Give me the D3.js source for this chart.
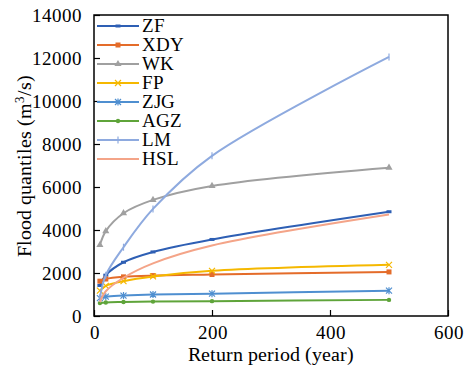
<!DOCTYPE html>
<html>
<head>
<meta charset="utf-8">
<script src="https://cdn.jsdelivr.net/npm/d3@7"></script>
<style>
  @font-face { font-family: "ChartSerif"; src: local("Liberation Serif"), local("LiberationSerif"); }
  body { margin: 0; background: #fff; }
  svg text, svg tspan { font-family: "ChartSerif", "Liberation Serif", serif !important; }
</style>
</head>
<body>
<div id="chart"></div>
<script>
const periods = [10, 20, 50, 100, 200, 500];
const names = ["ZF", "XDY", "WK", "FP", "ZJG", "AGZ", "LM", "HSL"];
const ZF = [1420, 1900, 2500, 2980, 3560, 4850];
const XDY = [1620, 1720, 1820, 1880, 1930, 2050];
const WK = [3300, 3950, 4780, 5400, 6050, 6900];
const FP = [1180, 1400, 1620, 1840, 2100, 2380];
const ZJG = [830, 900, 950, 1000, 1040, 1180];
const AGZ = [600, 630, 650, 670, 690, 750];
const LM = [850, 1900, 3200, 4980, 7450, 12050];
const HSL = [650, 1150, 1780, 2450, 3280, 4720];
const xTicks = [0, 200, 400, 600];
const yTicks = [0, 2000, 4000, 6000, 8000, 10000, 12000, 14000];

const seriesValues = [ZF, XDY, WK, FP, ZJG, AGZ, LM, HSL];
const colors = ["#2e5fb4", "#e46c2a", "#a0a0a0", "#f5b800", "#4f8fd0", "#5fa43a", "#8eaadf", "#f4a488"];
const shapes = ["dash", "square", "triangle", "x", "star", "dot", "plus", "none"];
const serif = "ChartSerif, Liberation Serif, serif";

const w = 471, h = 368;
const padL = 94, padR = 448, padT = 15, padB = 316;

const svg = d3.select("#chart").append("svg").attr("width", w).attr("height", h)
  .attr("font-family", serif);

const x = d3.scaleLinear().domain([0, 600]).range([padL, padR]);
const y = d3.scaleLinear().domain([0, 14000]).range([padB, padT]);

// axes with inward ticks
const xAxis = d3.axisBottom(x).tickValues(xTicks).tickFormat(d3.format("d"))
  .tickSizeInner(-6).tickSizeOuter(0).tickPadding(10);
const yAxis = d3.axisLeft(y).tickValues(yTicks).tickFormat(d3.format("d"))
  .tickSizeInner(-6).tickSizeOuter(0).tickPadding(12);

const gx = svg.append("g").attr("transform", `translate(0,${padB})`).call(xAxis);
const gy = svg.append("g").attr("transform", `translate(${padL},0)`).call(yAxis);
[gx, gy].forEach(g => {
  g.attr("font-family", serif).attr("font-size", 19);
  g.select(".domain").remove();
  g.selectAll(".tick line").attr("stroke", "#000").attr("stroke-width", 1.2);
  g.selectAll(".tick text").attr("fill", "#000").attr("font-family", serif);
});

svg.append("rect")
  .attr("x", padL).attr("y", padT)
  .attr("width", padR - padL).attr("height", padB - padT)
  .attr("fill", "none").attr("stroke", "#000").attr("stroke-width", 1.5);

const line = d3.line()
  .x(d => x(d[0]))
  .y(d => y(d[1]))
  .curve(d3.curveCatmullRom.alpha(0.5));

function marker(g, shape, cx, cy, color) {
  if (shape === "none") return;
  if (shape === "dash") {
    g.append("rect").attr("x", cx - 2.5).attr("y", cy - 1.5).attr("width", 5).attr("height", 3).attr("fill", color);
  } else if (shape === "square") {
    g.append("rect").attr("x", cx - 2.5).attr("y", cy - 2.5).attr("width", 5).attr("height", 5).attr("fill", color);
  } else if (shape === "triangle") {
    g.append("path").attr("d", d3.symbol(d3.symbolTriangle, 22)()).attr("transform", `translate(${cx},${cy})`).attr("fill", color);
  } else if (shape === "dot") {
    g.append("circle").attr("cx", cx).attr("cy", cy).attr("r", 2.2).attr("fill", color);
  } else if (shape === "x") {
    g.append("path").attr("d", `M${cx - 3},${cy - 3}L${cx + 3},${cy + 3}M${cx - 3},${cy + 3}L${cx + 3},${cy - 3}`)
      .attr("stroke", color).attr("stroke-width", 1.2);
  } else if (shape === "star") {
    g.append("path").attr("d", `M${cx - 3},${cy - 3}L${cx + 3},${cy + 3}M${cx - 3},${cy + 3}L${cx + 3},${cy - 3}M${cx},${cy - 3.5}L${cx},${cy + 3.5}`)
      .attr("stroke", color).attr("stroke-width", 1.2);
  } else if (shape === "plus") {
    g.append("path").attr("d", `M${cx},${cy - 3.5}L${cx},${cy + 3.5}`)
      .attr("stroke", color).attr("stroke-width", 1.2);
  }
}

seriesValues.forEach((vals, i) => {
  const pts = periods.map((p, j) => [p, vals[j]]);
  const g = svg.append("g");
  g.append("path").attr("d", line(pts))
    .attr("fill", "none").attr("stroke", colors[i]).attr("stroke-width", 2);
  pts.forEach(p => marker(g, shapes[i], x(p[0]), y(p[1]), colors[i]));
});

// legend
const legend = svg.append("g");
names.forEach((n, i) => {
  const ly = 26 + i * 19;
  legend.append("line").attr("x1", 97).attr("x2", 139).attr("y1", ly).attr("y2", ly)
    .attr("stroke", colors[i]).attr("stroke-width", 2);
  marker(legend, shapes[i], 118, ly, colors[i]);
  legend.append("text").attr("x", 142).attr("y", ly + 6)
    .attr("font-family", serif).attr("font-size", 19).text(n);
});

// axis titles
svg.append("text").attr("x", (padL + padR) / 2).attr("y", 361)
  .attr("text-anchor", "middle").attr("font-family", serif).attr("font-size", 20)
  .text("Return period (year)");

const yt = svg.append("text")
  .attr("transform", `translate(31,${(padT + padB) / 2}) rotate(-90)`)
  .attr("text-anchor", "middle").attr("font-family", serif).attr("font-size", 20);
yt.append("tspan").text("Flood quantiles (m");
yt.append("tspan").attr("dy", -7).attr("font-size", 13).text("3");
yt.append("tspan").attr("dy", 7).text("/s)");
</script>
</body>
</html>
